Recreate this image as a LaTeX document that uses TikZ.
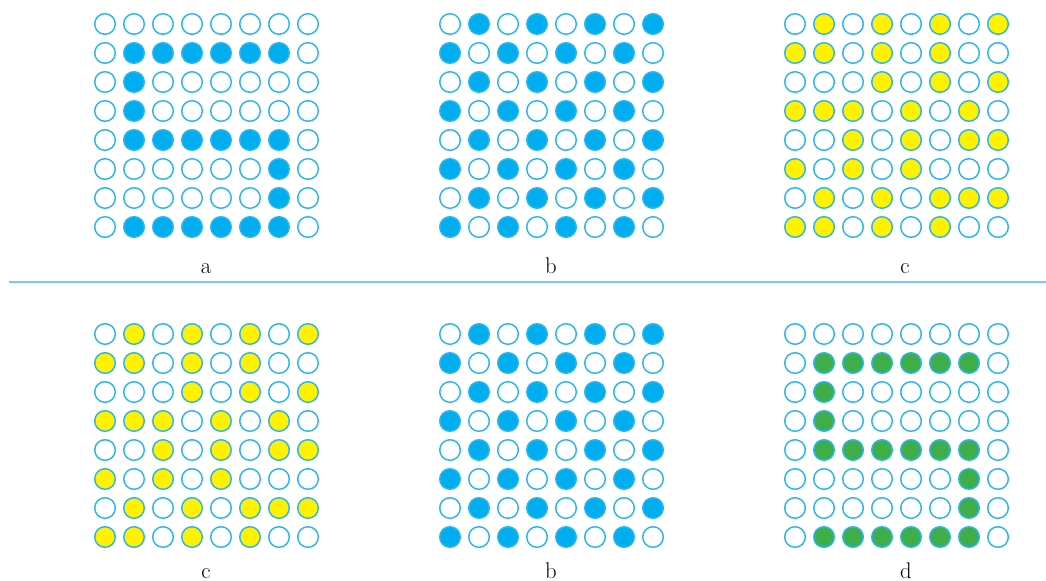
\documentclass[tikz,border=0pt]{standalone}
\definecolor{ring}{HTML}{29B6EE}
\definecolor{cyanfill}{HTML}{00AEEF}
\definecolor{yel}{HTML}{FFF100}
\definecolor{grn}{HTML}{3FAE49}
\definecolor{sep}{HTML}{6DCFF6}
\tikzset{
  hole/.style={draw=ring, line width=1.1pt, fill=white},
  dot/.style={draw=ring, line width=1.1pt},
  lbl/.style={font=\fontsize{17}{20}\selectfont, anchor=base, inner sep=0pt},
}
\newcommand\drawgrid[4]{%
  \foreach \rowbits [count=\r from 0] in {#3} {
    \foreach \bit [count=\c from 0] in \rowbits {
      \ifnum\bit=1
        \filldraw[dot, fill=#4] ({#1+29*\c},{#2+29*\r}) circle[radius=10.3];
      \else
        \filldraw[hole] ({#1+29*\c},{#2+29*\r}) circle[radius=10.3];
      \fi
    }
  }
}
\def\patA{{0,0,0,0,0,0,0,0},{0,1,1,1,1,1,1,0},{0,1,0,0,0,0,0,0},{0,1,0,0,0,0,0,0},{0,1,1,1,1,1,1,0},{0,0,0,0,0,0,1,0},{0,0,0,0,0,0,1,0},{0,1,1,1,1,1,1,0}}
\def\patB{{0,1,0,1,0,1,0,1},{1,0,1,0,1,0,1,0},{0,1,0,1,0,1,0,1},{1,0,1,0,1,0,1,0},{0,1,0,1,0,1,0,1},{1,0,1,0,1,0,1,0},{0,1,0,1,0,1,0,1},{1,0,1,0,1,0,1,0}}
\def\patC{{0,1,0,1,0,1,0,1},{1,1,0,1,0,1,0,0},{0,0,0,1,0,1,0,1},{1,1,1,0,1,0,1,0},{0,0,1,0,1,0,1,1},{1,0,1,0,1,0,0,0},{0,1,0,1,0,1,1,1},{1,1,0,1,0,1,0,0}}
\begin{document}
\begin{tikzpicture}[x=0.75pt,y=-0.75pt]
  \useasboundingbox (0,0) rectangle (1046,581);
  % top row
  \expandafter\drawgrid\expandafter{\expandafter1\expandafter0\expandafter5\expandafter}\expandafter{\expandafter2\expandafter4\expandafter}\expandafter{\patA}{cyanfill}
  \expandafter\drawgrid\expandafter{\expandafter4\expandafter5\expandafter0\expandafter}\expandafter{\expandafter2\expandafter4\expandafter}\expandafter{\patB}{cyanfill}
  \expandafter\drawgrid\expandafter{\expandafter7\expandafter9\expandafter5\expandafter}\expandafter{\expandafter2\expandafter4\expandafter}\expandafter{\patC}{yel}
  % bottom row
  \expandafter\drawgrid\expandafter{\expandafter1\expandafter0\expandafter5\expandafter}\expandafter{\expandafter3\expandafter3\expandafter4\expandafter}\expandafter{\patC}{yel}
  \expandafter\drawgrid\expandafter{\expandafter4\expandafter5\expandafter0\expandafter}\expandafter{\expandafter3\expandafter3\expandafter4\expandafter}\expandafter{\patB}{cyanfill}
  \expandafter\drawgrid\expandafter{\expandafter7\expandafter9\expandafter5\expandafter}\expandafter{\expandafter3\expandafter3\expandafter4\expandafter}\expandafter{\patA}{grn}
  % separator
  \coordinate (sepL) at (9,282);
  \coordinate (sepR) at (1046,282);
  \draw[sep, line width=1.5pt] (sepL) -- (sepR);
  % labels
  \node[lbl] (la) at (206,273) {a};
  \node[lbl] (lb) at (551,273) {b};
  \node[lbl] (lc) at (905,273) {c};
  \node[lbl] (ld) at (206,578) {c};
  \node[lbl] (le) at (551,578) {b};
  \node[lbl] (lf) at (906,578) {d};
\end{tikzpicture}
\end{document}
